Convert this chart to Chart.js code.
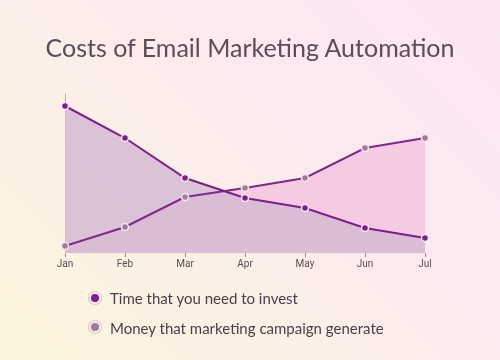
<!DOCTYPE html>
<html>
<head>
<meta charset="utf-8">
<script src="https://cdn.jsdelivr.net/npm/chart.js@4/dist/chart.umd.min.js"></script>
<style>
html,body{margin:0;padding:0;}
body{width:500px;height:360px;overflow:hidden;position:relative;
 background:linear-gradient(45deg,#fbf5dc 0%,#fcf0e6 35%,#fce9f0 65%,#fce6f4 100%);}
#wrap{position:absolute;left:0;top:0;width:500px;height:360px;}
#title{position:absolute;left:0;top:35px;width:500px;text-align:center;font-family:Lato,sans-serif;font-size:25px;line-height:25px;color:#5b4d57;white-space:nowrap;}
.leg{position:absolute;left:110px;font-family:Lato,sans-serif;font-size:15px;line-height:15px;color:#4a3f49;white-space:nowrap;}
.dot{position:absolute;width:8px;height:8px;border-radius:50%;border:2.5px solid #f8e9f1;box-shadow:0 0 0 1px rgba(160,130,150,0.35);}
</style>
</head>
<body>
<div id="wrap"><canvas id="c" width="500" height="360"></canvas></div>
<div id="title">Costs of Email Marketing Automation</div>
<div class="dot" id="d1" style="left:88.5px;top:291.5px;"></div>
<div class="leg" id="l1" style="top:291px;">Time that you need to invest</div>
<div class="dot" id="d2" style="left:88.5px;top:320.5px;"></div>
<div class="leg" id="l2" style="top:321px;">Money that marketing campaign generate</div>
<script>
const categories = ['Jan','Feb','Mar','Apr','May','Jun','Jul'];
const timeValues = [14.7, 11.5, 7.5, 5.5, 4.5, 2.5, 1.5];
const moneyValues = [0.7, 2.6, 5.6, 6.5, 7.5, 10.5, 11.5];
const seriesNames = ['Time that you need to invest','Money that marketing campaign generate'];
const timeColor = '#7b1f8a';
const moneyPoint = '#a07a98';
document.getElementById('d1').style.background = timeColor;
document.getElementById('d2').style.background = moneyPoint;

new Chart(document.getElementById('c'), {
  type: 'line',
  data: {
    labels: categories,
    datasets: [
      {label: seriesNames[0], data: timeValues, borderColor: timeColor, borderWidth: 2,
       backgroundColor: 'rgba(214,186,210,0.85)', fill: 'start', tension: 0,
       pointRadius: 3.5, pointBorderWidth: 1.5, pointBackgroundColor: timeColor, pointBorderColor: '#f8e8f1'},
      {label: seriesNames[1], data: moneyValues, borderColor: '#7e2a8c', borderWidth: 2,
       backgroundColor: 'rgba(245,200,224,0.95)', fill: 'start', tension: 0,
       pointRadius: 3.5, pointBorderWidth: 1.5, pointBackgroundColor: moneyPoint, pointBorderColor: '#f8e8f1'}
    ]
  },
  options: {
    responsive: false, animation: false,
    layout: {padding: {left: 57, right: 75, top: 93, bottom: 89}},
    plugins: {legend: {display: false}, title: {display: false}, tooltip: {enabled: false},
              filler: {drawTime: 'beforeDatasetsDraw'}},
    scales: {
      x: {offset: false,
          grid: {display: true, drawOnChartArea: false, drawTicks: true, tickLength: 4, color: '#9e8e9a'},
          border: {display: false},
          ticks: {padding: 1, color: '#5a4e57', font: {family: 'Roboto', size: 10}}},
      y: {min: 0, max: 16, grid: {display: false},
          border: {display: true, color: '#bfb0bb', width: 1},
          ticks: {display: false}}
    }
  }
});
</script>
</body>
</html>
